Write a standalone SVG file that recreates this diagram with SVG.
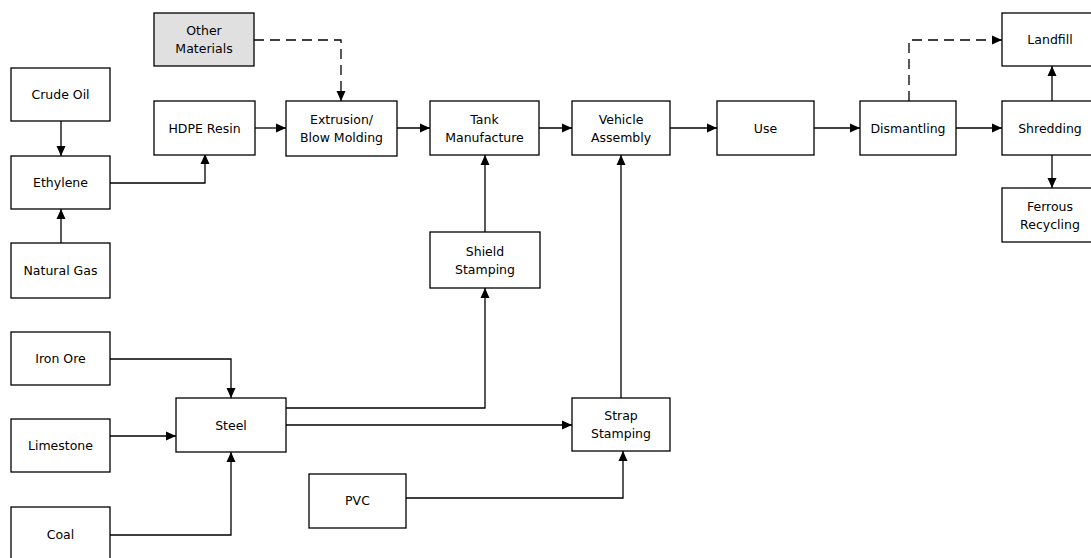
<svg xmlns="http://www.w3.org/2000/svg" width="1091" height="558" viewBox="0 0 1091 558">
<style>
.box{fill:#fff;stroke:#000;stroke-width:1.3}
.gray{fill:#e0e0e0}
text{font-family:"DejaVu Sans","Liberation Sans",sans-serif;font-size:12.5px;fill:#000;text-anchor:middle}
.c{fill:none;stroke:#000;stroke-width:1.3;marker-end:url(#ah)}
.d{stroke-dasharray:10 6}
</style>
<defs>
<marker id="ah" markerUnits="userSpaceOnUse" markerWidth="10" markerHeight="10" refX="10" refY="5" orient="auto">
<path d="M0,0.5 L10,5 L0,9.5 z" fill="#000"/>
</marker>
</defs>
<rect width="1091" height="558" fill="#fff"/>
<g id="connectors">
<path class="c" d="M61,121 V156"/>
<path class="c" d="M61,243 V209"/>
<path class="c" d="M110,183 H205 V154"/>
<path class="c d" d="M254,40 H341 V101"/>
<path class="c" d="M255,128 H286"/>
<path class="c" d="M397,128 H430"/>
<path class="c" d="M539,128 H572"/>
<path class="c" d="M670,128 H717"/>
<path class="c" d="M814,128 H860"/>
<path class="c" d="M956,128 H1002"/>
<path class="c d" d="M909,101 V40 H1002"/>
<path class="c" d="M1052,101 V66"/>
<path class="c" d="M1052,155 V188"/>
<path class="c" d="M485,232 V155"/>
<path class="c" d="M286,408 H485 V288"/>
<path class="c" d="M286,425 H572"/>
<path class="c" d="M621,398 V155"/>
<path class="c" d="M406,498 H623 V451"/>
<path class="c" d="M110,359 H231 V398"/>
<path class="c" d="M110,436 H176"/>
<path class="c" d="M110,535 H231 V452"/>
</g>
<g id="other"><rect class="box gray" x="154" y="13" width="100" height="53"/><text x="204" y="35">Other</text><text x="204" y="53">Materials</text></g>
<g id="crude"><rect class="box" x="11" y="68" width="99" height="53"/><text x="60.5" y="99">Crude Oil</text></g>
<g id="hdpe"><rect class="box" x="154" y="101" width="101" height="54"/><text x="204.5" y="132.5">HDPE Resin</text></g>
<g id="ethylene"><rect class="box" x="11" y="156" width="99" height="53"/><text x="60.5" y="187">Ethylene</text></g>
<g id="natgas"><rect class="box" x="11" y="243" width="99" height="55"/><text x="60.5" y="275">Natural Gas</text></g>
<g id="extrusion"><rect class="box" x="286" y="101" width="111" height="55"/><text x="341.5" y="124">Extrusion/</text><text x="341.5" y="142">Blow Molding</text></g>
<g id="tank"><rect class="box" x="430" y="101" width="109" height="54"/><text x="484.5" y="124">Tank</text><text x="484.5" y="142">Manufacture</text></g>
<g id="vehicle"><rect class="box" x="572" y="101" width="98" height="54"/><text x="621" y="124">Vehicle</text><text x="621" y="142">Assembly</text></g>
<g id="use"><rect class="box" x="717" y="101" width="97" height="54"/><text x="765.5" y="132.5">Use</text></g>
<g id="dismantling"><rect class="box" x="860" y="101" width="96" height="54"/><text x="908" y="132.5">Dismantling</text></g>
<g id="shredding"><rect class="box" x="1002" y="101" width="96" height="54"/><text x="1050" y="132.5">Shredding</text></g>
<g id="landfill"><rect class="box" x="1002" y="13" width="96" height="53"/><text x="1050" y="44">Landfill</text></g>
<g id="ferrous"><rect class="box" x="1002" y="188" width="96" height="54"/><text x="1050" y="211">Ferrous</text><text x="1050" y="229">Recycling</text></g>
<g id="shield"><rect class="box" x="430" y="232" width="110" height="56"/><text x="485" y="256">Shield</text><text x="485" y="274">Stamping</text></g>
<g id="iron"><rect class="box" x="11" y="332" width="99" height="53"/><text x="60.5" y="363">Iron Ore</text></g>
<g id="limestone"><rect class="box" x="11" y="419" width="99" height="53"/><text x="60.5" y="450">Limestone</text></g>
<g id="coal"><rect class="box" x="11" y="507" width="99" height="60"/><text x="60.5" y="539">Coal</text></g>
<g id="steel"><rect class="box" x="176" y="398" width="110" height="54"/><text x="231" y="429.5">Steel</text></g>
<g id="strap"><rect class="box" x="572" y="398" width="98" height="53"/><text x="621" y="420">Strap</text><text x="621" y="438">Stamping</text></g>
<g id="pvc"><rect class="box" x="309" y="474" width="97" height="54"/><text x="357.5" y="505">PVC</text></g>
</svg>
